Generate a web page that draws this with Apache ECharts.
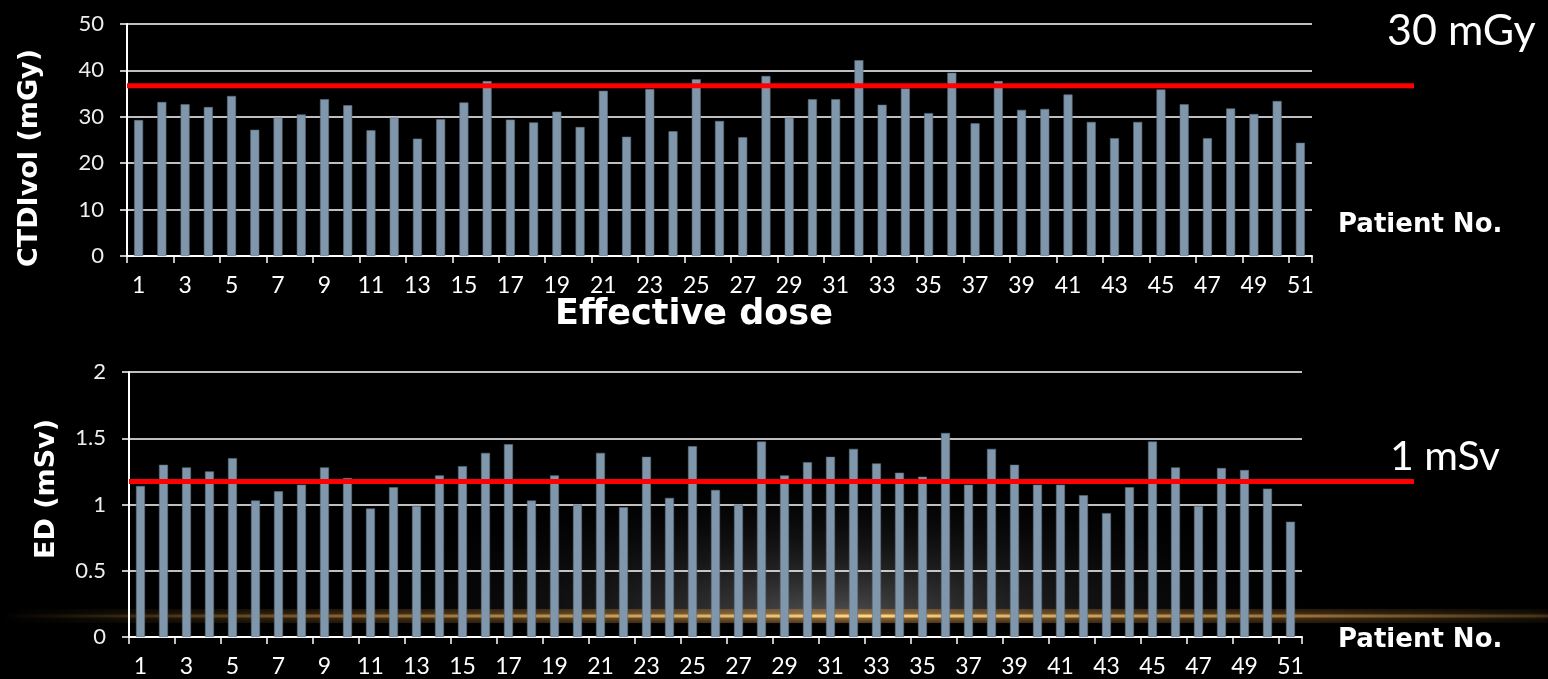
<!DOCTYPE html>
<html>
<head>
<meta charset="utf-8">
<script src="https://cdn.jsdelivr.net/npm/echarts@6/dist/echarts.min.js"></script>
<style>
html,body{margin:0;padding:0;background:#000;}
#c{width:1548px;height:679px;}
</style>
</head>
<body>
<div id="c"></div>
<script>
// ---- data ----
const patients = ['1','2','3','4','5','6','7','8','9','10','11','12','13','14','15','16','17','18','19','20','21','22','23','24','25','26','27','28','29','30','31','32','33','34','35','36','37','38','39','40','41','42','43','44','45','46','47','48','49','50','51'];
const ctdiVol = [29.3,33.2,32.7,32.1,34.5,27.2,29.8,30.5,33.8,32.5,
                 27.1,29.8,25.3,29.5,33.1,37.7,29.4,28.8,31.1,27.8,
                 35.6,25.7,36.0,26.9,38.1,29.1,25.6,38.8,29.8,33.8,
                 33.8,42.2,32.6,36.1,30.8,39.5,28.6,37.7,31.5,31.7,
                 34.8,28.9,25.4,28.9,35.9,32.7,25.4,31.8,30.6,33.4,24.4];
const effDose = [1.14,1.30,1.28,1.25,1.35,1.03,1.10,1.15,1.28,1.20,
                 0.97,1.13,0.99,1.22,1.29,1.39,1.455,1.03,1.22,1.00,
                 1.39,0.98,1.36,1.05,1.44,1.11,1.00,1.475,1.22,1.32,
                 1.36,1.42,1.31,1.24,1.21,1.54,1.15,1.42,1.30,1.15,
                 1.15,1.07,0.935,1.13,1.475,1.28,0.99,1.275,1.26,1.12,0.87];
const ctdiRef = 36.7;
const edRef = 1.173;
const ctdiTicks = [0,10,20,30,40,50];
const edTicks = [0,0.5,1,1.5,2];

// ---- chart ----
const FONT = 'Lato, "Open Sans", sans-serif';
const BFONT = '"DejaVu Sans", Lato, sans-serif';
const chart = echarts.init(document.getElementById('c'));

function catAxis(gi){
  return {
    type:'category', gridIndex:gi, data:patients,
    axisLine:{lineStyle:{color:'#fff', width:2}},
    axisTick:{show:true, length:7, lineStyle:{color:'#fff', width:1.5}},
    axisLabel:{interval:1, color:'#fff', fontSize:23, fontFamily:FONT, margin:18}
  };
}
function valAxis(gi, ticks){
  return {
    type:'value', gridIndex:gi, min:ticks[0], max:ticks[ticks.length-1], interval:ticks[1]-ticks[0],
    axisLine:{show:true, lineStyle:{color:'#fff', width:2}},
    axisTick:{show:true, length:7, lineStyle:{color:'#fff', width:1.5}},
    splitLine:{show:true, lineStyle:{color:'#fff', width:1.5}},
    axisLabel:{color:'#eee', fontSize:22, fontFamily:FONT, margin:23}
  };
}

const option = {
  backgroundColor:'#000',
  animation:false,
  grid:[
    {left:127, top:24, width:1185, height:232},
    {left:129, top:372, width:1173, height:265},
    {left:127, top:24, width:1287, height:232},
    {left:129, top:372, width:1285, height:265}
  ],
  xAxis:[
    catAxis(0), catAxis(1),
    {type:'value', gridIndex:2, min:0, max:1, show:false},
    {type:'value', gridIndex:3, min:0, max:1, show:false}
  ],
  yAxis:[
    valAxis(0, ctdiTicks), valAxis(1, edTicks),
    {type:'value', gridIndex:2, min:ctdiTicks[0], max:ctdiTicks[ctdiTicks.length-1], show:false},
    {type:'value', gridIndex:3, min:edTicks[0], max:edTicks[edTicks.length-1], show:false}
  ],
  series:[
    {type:'bar', xAxisIndex:0, yAxisIndex:0, data:ctdiVol, barWidth:9,
     itemStyle:{color:'#7f96ab', borderColor:'#5d6f80', borderWidth:0.6}},
    {type:'bar', xAxisIndex:1, yAxisIndex:1, data:effDose, barWidth:9,
     itemStyle:{color:'#7f96ab', borderColor:'#5d6f80', borderWidth:0.6}},
    {type:'line', xAxisIndex:2, yAxisIndex:2, data:[[0,ctdiRef],[1,ctdiRef]], symbol:'none', silent:true, z:5,
     lineStyle:{color:'#ff0000', width:5, cap:'butt'}},
    {type:'line', xAxisIndex:3, yAxisIndex:3, data:[[0,edRef],[1,edRef]], symbol:'none', silent:true, z:5,
     lineStyle:{color:'#ff0000', width:5, cap:'butt'}}
  ],
  graphic:[
    // background haze and glow
    {type:'circle', silent:true, z:-10, x:830, y:616, scaleX:5.2, scaleY:1.5,
     shape:{cx:0, cy:0, r:100},
     style:{fill:{type:'radial', x:0.5, y:0.5, r:0.5, colorStops:[
       {offset:0, color:'rgba(100,100,100,0.8)'},
       {offset:0.45, color:'rgba(55,55,55,0.4)'},
       {offset:1, color:'rgba(0,0,0,0)'}]}}},
    {type:'rect', silent:true, z:-9, shape:{x:0, y:614, width:1548, height:65},
     style:{fill:{type:'linear', x:0, y:0, x2:0, y2:1, colorStops:[
       {offset:0, color:'rgba(0,0,0,0)'},
       {offset:0.15, color:'rgba(0,0,0,1)'},
       {offset:1, color:'rgba(0,0,0,1)'}]}}},
    {type:'rect', silent:true, z:-8, shape:{x:0, y:609, width:1548, height:14},
     style:{fill:{type:'linear', x:0, y:0, x2:1, y2:0, colorStops:[
       {offset:0, color:'rgba(120,90,40,0)'},
       {offset:0.25, color:'rgba(150,105,45,0.22)'},
       {offset:0.55, color:'rgba(200,140,60,0.4)'},
       {offset:0.85, color:'rgba(150,105,45,0.22)'},
       {offset:1, color:'rgba(120,90,40,0.05)'}]}}},
    {type:'rect', silent:true, z:-7, shape:{x:0, y:614.5, width:1548, height:3},
     style:{fill:{type:'linear', x:0, y:0, x2:1, y2:0, colorStops:[
       {offset:0, color:'rgba(160,120,60,0)'},
       {offset:0.2, color:'rgba(190,140,70,0.5)'},
       {offset:0.56, color:'rgba(255,215,130,1)'},
       {offset:0.85, color:'rgba(200,150,80,0.6)'},
       {offset:1, color:'rgba(160,120,60,0.3)'}]},
       shadowBlur:6, shadowColor:'rgba(255,170,70,0.8)'}},
    // texts
    {type:'text', x:30, y:158, rotation:Math.PI/2,
     style:{text:'CTDIvol (mGy)', font:'bold 27px '+BFONT, fill:'#fff', textAlign:'center', textVerticalAlign:'middle', align:'center', verticalAlign:'middle'}},
    {type:'text', x:47, y:489, rotation:Math.PI/2,
     style:{text:'ED (mSv)', font:'bold 27px '+BFONT, fill:'#fff', textAlign:'center', textVerticalAlign:'middle', align:'center', verticalAlign:'middle'}},
    {type:'text', x:694, y:315,
     style:{text:'Effective dose', font:'bold 35px '+BFONT, fill:'#fff', textAlign:'center', textVerticalAlign:'middle', align:'center', verticalAlign:'middle'}},
    {type:'text', x:1338, y:225,
     style:{text:'Patient No.', font:'bold 26px '+BFONT, fill:'#fff', textAlign:'left', textVerticalAlign:'middle', align:'left', verticalAlign:'middle'}},
    {type:'text', x:1338, y:640,
     style:{text:'Patient No.', font:'bold 26px '+BFONT, fill:'#fff', textAlign:'left', textVerticalAlign:'middle', align:'left', verticalAlign:'middle'}},
    {type:'text', x:1387, y:31,
     style:{text:'30 mGy', font:'43px '+FONT, fill:'#fff', textAlign:'left', textVerticalAlign:'middle', align:'left', verticalAlign:'middle'}},
    {type:'text', x:1390, y:457,
     style:{text:'1 mSv', font:'41px '+FONT, fill:'#fff', textAlign:'left', textVerticalAlign:'middle', align:'left', verticalAlign:'middle'}}
  ]
};
chart.setOption(option);
</script>
</body>
</html>
